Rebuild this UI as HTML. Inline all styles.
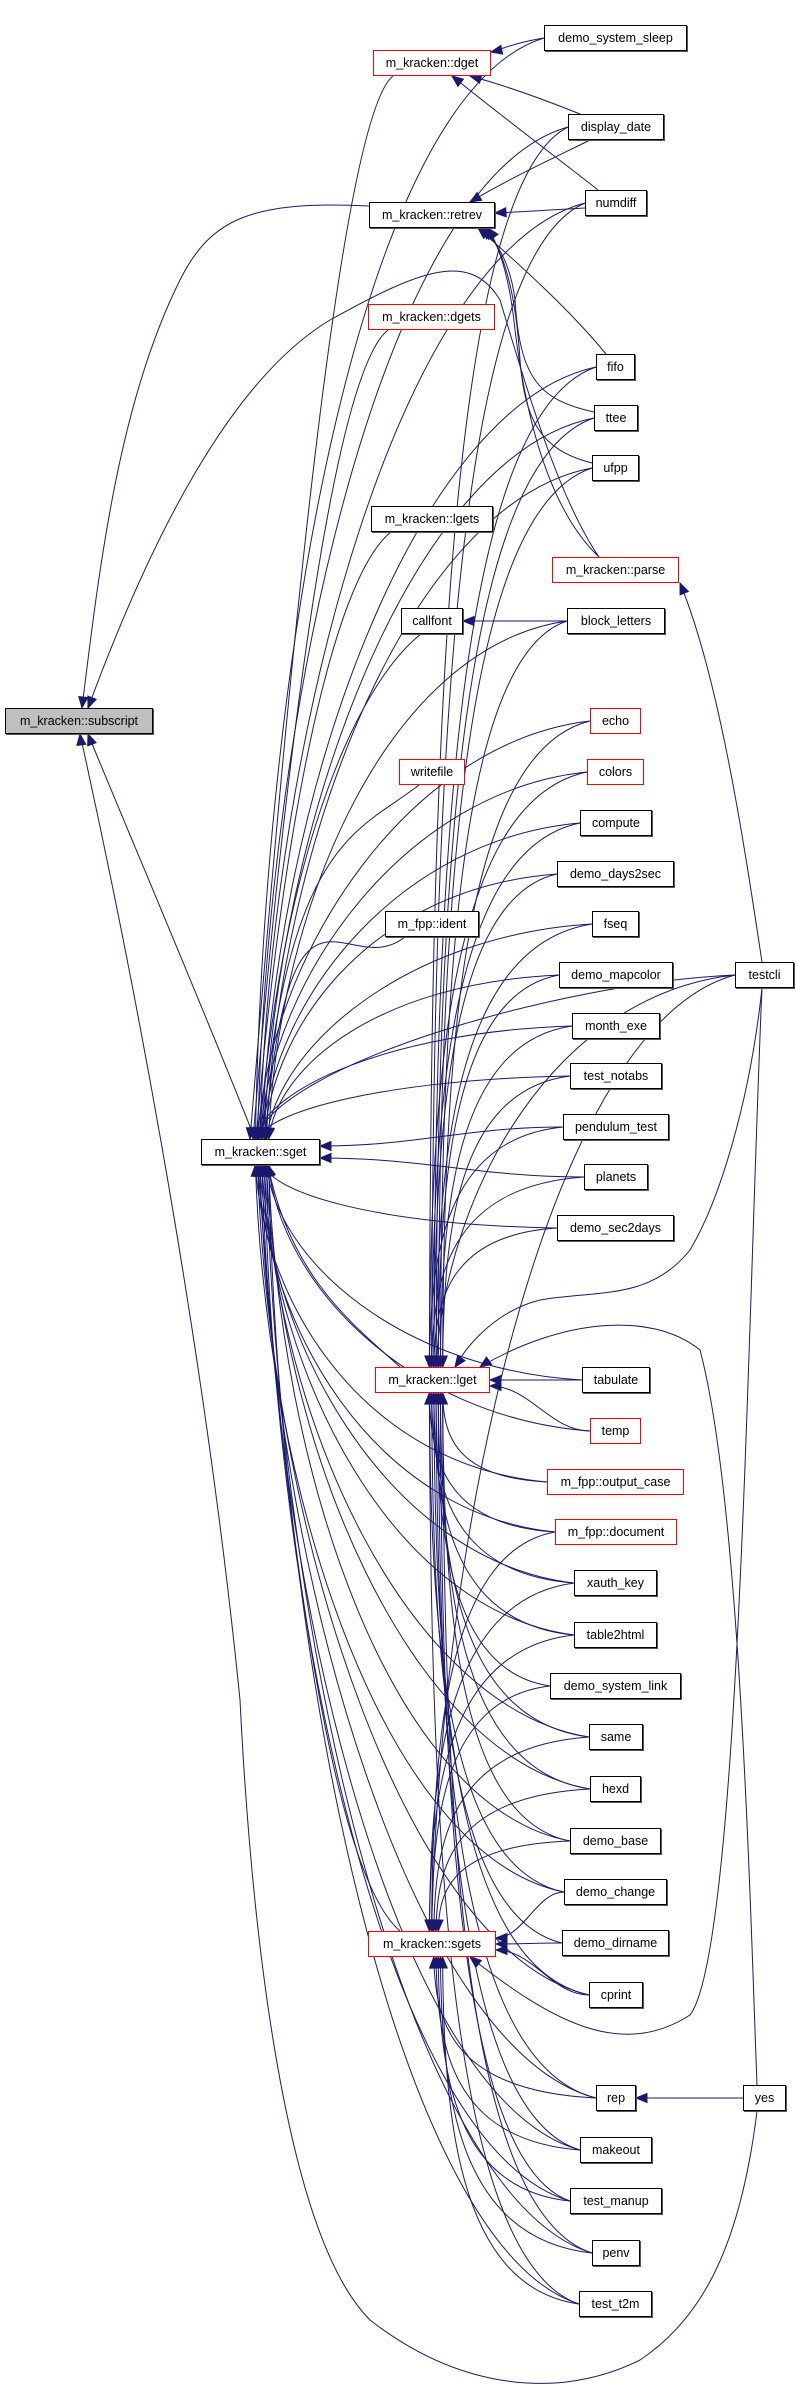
<!DOCTYPE html>
<html><head><meta charset="utf-8">
<style>
html,body{margin:0;padding:0;background:#fff;}
#wrap{position:relative;width:795px;height:2386px;overflow:hidden;}
svg{position:absolute;left:0;top:0;}
.n{position:absolute;box-sizing:border-box;border:1px solid #000;background:#fff;font-family:"Liberation Sans",sans-serif;font-size:12.5px;color:#000;text-align:center;white-space:nowrap;line-height:24px;box-shadow:1px 1px 0 #555;}
.r{border-color:#f00;box-shadow:none;}
.g{background:#bfbfbf;}
</style></head><body>
<div id="wrap">
<svg id="s" width="795" height="2386" viewBox="0 0 795 2386"></svg>
<div class="n" style="left:544px;top:25px;width:143px;height:26px">demo_system_sleep</div>
<div class="n r" style="left:373px;top:50px;width:118px;height:26px">m_kracken::dget</div>
<div class="n" style="left:568px;top:114px;width:96px;height:26px">display_date</div>
<div class="n" style="left:585px;top:190px;width:62px;height:26px">numdiff</div>
<div class="n" style="left:369px;top:202px;width:126px;height:26px">m_kracken::retrev</div>
<div class="n r" style="left:368px;top:304px;width:127px;height:26px">m_kracken::dgets</div>
<div class="n" style="left:596px;top:354px;width:39px;height:26px">fifo</div>
<div class="n" style="left:594px;top:405px;width:44px;height:26px">ttee</div>
<div class="n" style="left:592px;top:455px;width:47px;height:26px">ufpp</div>
<div class="n" style="left:371px;top:506px;width:122px;height:26px">m_kracken::lgets</div>
<div class="n r" style="left:552px;top:557px;width:127px;height:26px">m_kracken::parse</div>
<div class="n" style="left:401px;top:608px;width:62px;height:26px">callfont</div>
<div class="n" style="left:567px;top:608px;width:98px;height:26px">block_letters</div>
<div class="n g" style="left:5px;top:708px;width:148px;height:26px">m_kracken::subscript</div>
<div class="n r" style="left:590px;top:708px;width:51px;height:26px">echo</div>
<div class="n r" style="left:399px;top:759px;width:66px;height:26px">writefile</div>
<div class="n r" style="left:587px;top:759px;width:57px;height:26px">colors</div>
<div class="n" style="left:580px;top:810px;width:72px;height:26px">compute</div>
<div class="n" style="left:557px;top:861px;width:117px;height:26px">demo_days2sec</div>
<div class="n" style="left:385px;top:911px;width:94px;height:26px">m_fpp::ident</div>
<div class="n" style="left:592px;top:911px;width:47px;height:26px">fseq</div>
<div class="n" style="left:559px;top:962px;width:114px;height:26px">demo_mapcolor</div>
<div class="n" style="left:735px;top:962px;width:59px;height:26px">testcli</div>
<div class="n" style="left:572px;top:1013px;width:88px;height:26px">month_exe</div>
<div class="n" style="left:570px;top:1063px;width:92px;height:26px">test_notabs</div>
<div class="n" style="left:563px;top:1114px;width:106px;height:26px">pendulum_test</div>
<div class="n" style="left:201px;top:1139px;width:119px;height:26px">m_kracken::sget</div>
<div class="n" style="left:584px;top:1164px;width:64px;height:26px">planets</div>
<div class="n" style="left:557px;top:1215px;width:117px;height:26px">demo_sec2days</div>
<div class="n r" style="left:375px;top:1367px;width:115px;height:26px">m_kracken::lget</div>
<div class="n" style="left:582px;top:1367px;width:68px;height:26px">tabulate</div>
<div class="n r" style="left:590px;top:1418px;width:51px;height:26px">temp</div>
<div class="n r" style="left:547px;top:1469px;width:137px;height:26px">m_fpp::output_case</div>
<div class="n r" style="left:555px;top:1519px;width:122px;height:26px">m_fpp::document</div>
<div class="n" style="left:574px;top:1570px;width:83px;height:26px">xauth_key</div>
<div class="n" style="left:574px;top:1622px;width:83px;height:26px">table2html</div>
<div class="n" style="left:550px;top:1673px;width:131px;height:26px">demo_system_link</div>
<div class="n" style="left:589px;top:1724px;width:54px;height:26px">same</div>
<div class="n" style="left:590px;top:1776px;width:51px;height:26px">hexd</div>
<div class="n" style="left:570px;top:1828px;width:91px;height:26px">demo_base</div>
<div class="n" style="left:564px;top:1879px;width:103px;height:26px">demo_change</div>
<div class="n r" style="left:368px;top:1931px;width:128px;height:26px">m_kracken::sgets</div>
<div class="n" style="left:562px;top:1930px;width:107px;height:26px">demo_dirname</div>
<div class="n" style="left:589px;top:1982px;width:54px;height:26px">cprint</div>
<div class="n" style="left:596px;top:2085px;width:40px;height:26px">rep</div>
<div class="n" style="left:743px;top:2085px;width:43px;height:26px">yes</div>
<div class="n" style="left:580px;top:2137px;width:72px;height:26px">makeout</div>
<div class="n" style="left:570px;top:2188px;width:92px;height:26px">test_manup</div>
<div class="n" style="left:592px;top:2240px;width:48px;height:26px">penv</div>
<div class="n" style="left:579px;top:2291px;width:73px;height:26px">test_t2m</div>
</div>
<script>
var C="#191970",out="";
function arrow(x,y,px,py){var dx=x-px,dy=y-py,l=Math.hypot(dx,dy)||1;dx/=l;dy/=l;var L=11,W=4.5,bx=x-dx*L,by=y-dy*L;
out+='<polygon points="'+x+','+y+' '+(bx-dy*W)+','+(by+dx*W)+' '+(bx+dy*W)+','+(by-dx*W)+'" fill="'+C+'" stroke="'+C+'"/>';}
function raw(d,x,y,px,py){out+='<path d="'+d+'" fill="none" stroke="'+C+'" stroke-width="1"/>';arrow(x,y,px,py);}
var L={dss:[544,38],dd:[568,127],nd:[585,203],fifo:[596,367],ttee:[594,418],ufpp:[592,468],bl:[567,621],echo:[590,721],col:[587,772],comp:[580,823],d2s:[557,874],fseq:[592,924],map:[559,975],tc:[735,975],mon:[572,1026],nt:[570,1076],pen:[563,1127],pl:[584,1177],s2d:[557,1228],tab:[582,1380],temp:[590,1431],oc:[547,1482],doc:[555,1532],xa:[574,1583],t2h:[574,1635],dsl:[550,1686],same:[589,1737],hexd:[590,1789],base:[570,1841],chg:[564,1892],dir:[562,1943],cpr:[589,1995],rep:[596,2098],mk:[580,2150],man:[570,2201],penv:[592,2253],t2m:[579,2304]};
function toNode(src,cx,top,bot,right,midY,k){
  var x0=src[0],y0=src[1],x1,y1,d;
  if(Math.abs(y0-midY)<60){x1=right;y1=midY+(y0<midY-3?-6:(y0>midY+3?6:0));
    var m=(x0-x1)*0.4;
    d='M'+x0+','+y0+' C'+(x0-m)+','+y0+' '+(x1+m)+','+y1+' '+x1+','+y1;raw(d,x1,y1,x1+20,y1);return;}
  var j=(k%7-3)*2.2;x1=cx+j;
  y1=(y0<midY)?top:bot;
  var dy=y1-y0,bend=Math.min(200,x0-x1);
  var c1x=x0-bend*0.9,c1y=y0+dy*0.05;
  var c2x=x1+(c1x-x1)*0.08, c2y=y1-dy*0.45;
  d='M'+x0+','+y0+' C'+c1x+','+c1y+' '+c2x+','+c2y+' '+x1+','+y1;
  raw(d,x1,y1,c2x,c2y);
}
var sgetL=['dss','dd','nd','fifo','ttee','ufpp','bl','tc','echo','col','comp','d2s','fseq','map','mon','nt','pen','pl','s2d','tab','temp','oc','doc','xa','t2h','same','hexd','base','chg','cpr','rep','mk','man','penv','t2m'];
sgetL.forEach(function(n,i){toNode(L[n],262,1139,1165,320,1152,i);});
var lgetL=['dd','nd','fifo','ttee','ufpp','bl','echo','col','comp','d2s','fseq','map','mon','nt','pen','pl','s2d','tc','tab','temp','oc','doc','xa','t2h','dsl','same','hexd','base','chg','dir','cpr','rep','mk','man','penv','t2m'];
lgetL.forEach(function(n,i){toNode(L[n],436,1367,1393,490,1380,i);});
var sgetsL=['t2h','dsl','same','hexd','base','chg','dir','cpr','tc','rep','mk','man','penv','t2m','xa','doc'];
sgetsL.forEach(function(n,i){toNode(L[n],436,1931,1957,496,1944,i);});
[[373,63],[368,317],[371,519],[401,621],[399,772],[385,924]].forEach(function(p,i){
  var x1=250+i*3,y1=1139;var d='M'+(p[0]+20)+','+(p[1]+13)+' C'+(p[0]-40)+','+(p[1]+60)+' '+(x1+25)+','+(y1-300)+' '+x1+','+y1;raw(d,x1,y1,x1+3,y1-40);});
raw('M400,1367 C360,1330 290,1280 268,1165',268,1165,275,1190);
raw('M400,1931 C340,1880 290,1600 258,1165',258,1165,262,1200);
raw('M544,38 C520,42 510,46 491,52',491,52,510,48);
raw('M580,114 C540,98 500,84 470,76',470,76,485,80);
raw('M598,190 C560,160 500,115 452,76',452,76,470,90);
raw('M590,140 C560,155 510,178 470,202',470,202,490,190);
raw('M585,208 C550,210 520,212 495,213',495,213,510,212);
raw('M606,354 C570,310 520,265 478,228',478,228,495,242);
raw('M594,412 C540,400 520,380 515,300 C510,260 495,240 482,228',482,228,492,238);
raw('M592,463 C540,450 525,420 520,360 C515,280 500,245 485,228',485,228,495,240);
raw('M599,557 C560,520 530,450 515,330 C510,280 500,248 488,228',488,228,498,242);
raw('M369,206 C250,200 210,220 180,280 C120,400 100,560 82,708',82,708,84,690);
raw('M599,557 C560,500 530,400 500,300 C470,250 420,270 330,320 C230,380 150,540 88,708',88,708,95,690);
raw('M255,1139 C200,1000 140,860 88,734',88,734,94,750);
raw('M757,2111 C740,2250 700,2320 640,2360 C560,2400 460,2390 370,2320 C280,2230 250,1900 240,1700 C210,1400 150,1050 80,734',80,734,82,750);
raw('M567,621 L463,621',463,621,475,621);
raw('M762,962 C745,850 720,680 680,583',680,583,685,595);
raw('M743,2098 L636,2098',636,2098,648,2098);
raw('M762,988 C750,1100 720,1200 690,1250 C650,1300 600,1290 540,1300 C500,1310 470,1340 455,1367',455,1367,462,1357);
raw('M757,2085 C750,1900 740,1500 700,1350 C650,1310 560,1320 480,1367',480,1367,490,1360);
raw('M762,988 C748,1300 740,1950 690,2015 C620,2060 550,2020 470,1957',470,1957,480,1965);
document.getElementById('s').innerHTML=out;
</script>
</body></html>
